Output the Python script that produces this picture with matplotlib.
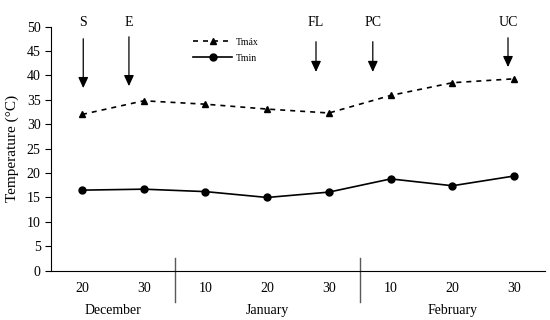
import numpy as np
import matplotlib
matplotlib.use("Agg")
import matplotlib.pyplot as plt
import matplotlib.transforms as mtransforms

### data
day_labels = ["20", "30", "10", "20", "30", "10", "20", "30"]
months = ["December", "January", "February"]
month_centers = [0.5, 3.0, 6.0]
month_breaks = [1.5, 4.5]
t_max = [32.0, 34.8, 34.1, 33.1, 32.3, 35.9, 38.5, 39.3]
t_min = [16.5, 16.7, 16.2, 15.0, 16.1, 18.8, 17.4, 19.4]

# stage arrows: label, x position, arrow tail, arrow head
stages = ["S", "E", "FL", "PC", "UC"]
stage_x = [0.02, 0.76, 3.79, 4.71, 6.9]
stage_top = [47.5, 47.9, 46.9, 46.9, 47.7]
stage_tip = [37.4, 37.8, 40.7, 40.7, 41.7]
###---------------------------------------------------------------------

plt.rcParams["font.family"] = ["Liberation Serif", "DejaVu Serif"]

fig = plt.figure(figsize=(5.5, 3.2), dpi=100)
ax = fig.add_axes([0.093, 0.154, 0.898, 0.763])

x = np.arange(len(day_labels))
ax.plot(x, t_max, linestyle=(0, (3, 3)), color="k", lw=1.2,
        marker="^", markersize=5, label="Tmáx")
ax.plot(x, t_min, linestyle="-", color="k", lw=1.2,
        marker="o", markersize=5, label="Tmin")

ax.set_xlim(-0.5, 7.5)
ax.set_ylim(0, 50)
ax.set_yticks(np.arange(0, 51, 5))
ax.set_xticks(x)
ax.set_xticklabels(day_labels, fontsize=10)
ax.tick_params(axis="x", length=0, pad=8)
ax.tick_params(axis="y", labelsize=10, length=4, direction="out")
ax.set_ylabel("Temperature (°C)", fontsize=11, labelpad=6)

for s in ["top", "right"]:
    ax.spines[s].set_visible(False)

trans = mtransforms.blended_transform_factory(ax.transData, ax.transAxes)
for b in month_breaks:
    ax.plot([b, b], [0.052, -0.128], color="0.35", lw=1,
            transform=trans, clip_on=False)
for m, c in zip(months, month_centers):
    ax.text(c, -0.161, m, transform=trans, ha="center", va="center", fontsize=10)

for lab, sx, top, tip in zip(stages, stage_x, stage_top, stage_tip):
    ax.annotate("", xy=(sx, tip), xytext=(sx, top),
                arrowprops=dict(arrowstyle="-|>,head_length=0.65,head_width=0.3",
                                color="k", lw=0.9, shrinkA=0, shrinkB=0),
                annotation_clip=False)
    ax.text(sx, 50.8, lab, ha="center", va="center", fontsize=10, clip_on=False)

leg = ax.legend(loc="upper left", bbox_to_anchor=(0.27, 0.99), frameon=False,
                fontsize=7, handlelength=4, labelspacing=0.7, handletextpad=0.4)

plt.savefig("out.png", dpi=100)
